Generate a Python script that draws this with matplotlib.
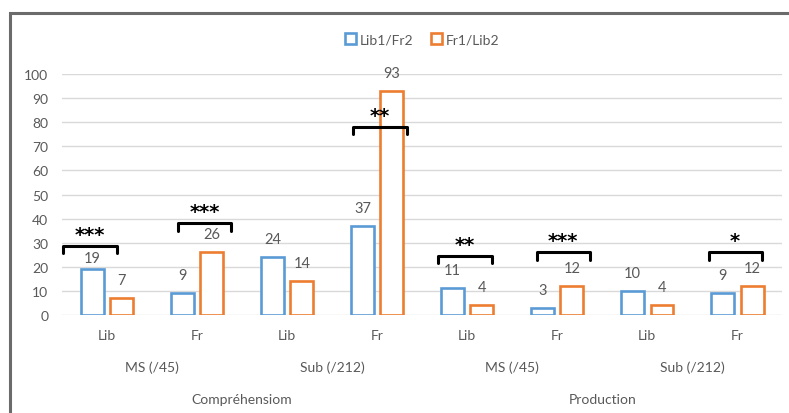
import matplotlib
matplotlib.use('Agg')
import matplotlib.pyplot as plt
from matplotlib.patches import Rectangle
import numpy as np

plt.rcParams['font.family'] = ['Lato', 'DejaVu Sans']

# data
cats = ['Lib', 'Fr', 'Lib', 'Fr', 'Lib', 'Fr', 'Lib', 'Fr']
groups = ['MS (/45)', 'Sub (/212)', 'MS (/45)', 'Sub (/212)']
tasks = ['Compréhensiom', 'Production']
lib1_fr2 = [19, 9, 24, 37, 11, 3, 10, 9]
fr1_lib2 = [7, 26, 14, 93, 4, 12, 4, 12]
series_names = ['Lib1/Fr2', 'Fr1/Lib2']

# significance brackets: category, left, right (offset from centre), height, stars
sig_cat = [0, 1, 3, 4, 5, 7]
sig_left = [-0.49, -0.21, -0.27, -0.32, -0.23, -0.32]
sig_right = [0.11, 0.375, 0.33, 0.27, 0.36, 0.27]
sig_h = [28.6, 38, 78, 24.5, 26, 26]
sig_txt = ['***', '***', '**', '**', '***', '*']

blue = '#5B9BD5'
orange = '#ED7D31'
grey = '#595959'

fig = plt.figure(figsize=(7.89, 4.14), dpi=100)
ax = fig.add_axes([0.0786, 0.2367, 0.913, 0.5821])

x = np.arange(len(cats))
w = 0.255
off = 0.163
ax.bar(x - off, lib1_fr2, w, facecolor='white', edgecolor=blue, linewidth=1.9, label=series_names[0], zorder=3)
ax.bar(x + off, fr1_lib2, w, facecolor='white', edgecolor=orange, linewidth=1.9, label=series_names[1], zorder=3)

for i in range(len(cats)):
    ax.annotate(str(lib1_fr2[i]), (x[i] - off, lib1_fr2[i]), xytext=(0, 13 if i else 8),
                textcoords='offset points', ha='center', va='center', fontsize=10.5, color=grey,
                annotation_clip=False)
    ax.annotate(str(fr1_lib2[i]), (x[i] + off, fr1_lib2[i]), xytext=(0, 13),
                textcoords='offset points', ha='center', va='center', fontsize=10.5, color=grey,
                annotation_clip=False)

for c, l, r, h, s in zip(sig_cat, sig_left, sig_right, sig_h, sig_txt):
    ax.plot([c + l, c + l, c + r, c + r], [h - 3, h, h, h - 3], color='black', lw=2.2,
            solid_joinstyle='round', solid_capstyle='round', zorder=5, clip_on=False)
    ax.text(c + (l + r) / 2, h + 2.6, s, ha='center', va='baseline', fontsize=14,
            fontweight='bold', color='black', family='DejaVu Sans', zorder=5)

ax.set_xlim(-0.5, 7.5)
ax.set_ylim(0, 100)
ax.set_yticks(range(0, 101, 10))
ax.yaxis.grid(True, color='#d9d9d9', lw=1)
ax.set_axisbelow(True)
for sp in ax.spines.values():
    sp.set_visible(False)
ax.tick_params(axis='y', length=0, labelsize=10, labelcolor=grey, pad=10)
ax.set_xticks(x)
ax.set_xticklabels(cats)
ax.tick_params(axis='x', length=0, labelsize=10, labelcolor=grey, pad=10)

trans = ax.get_xaxis_transform()
for j, g in enumerate(groups):
    ax.text(2 * j + 0.5, -0.215, g, transform=trans, ha='center', va='center', fontsize=10, color=grey)
for j, t in enumerate(tasks):
    ax.text(4 * j + 1.5, -0.35, t, transform=trans, ha='center', va='center', fontsize=10, color=grey)

ax.legend(loc='center', bbox_to_anchor=(0.5, 1.145), ncol=2, frameon=False, fontsize=10,
          labelcolor=grey, handlelength=0.8, handleheight=0.8, handletextpad=0.3, columnspacing=1.2)

fig.patches.append(Rectangle((0.0127, -0.1), 1.2, 1.066, transform=fig.transFigure,
                             fill=False, edgecolor='#6b6b6b', lw=2.2))

fig.savefig('out.png', dpi=100)
